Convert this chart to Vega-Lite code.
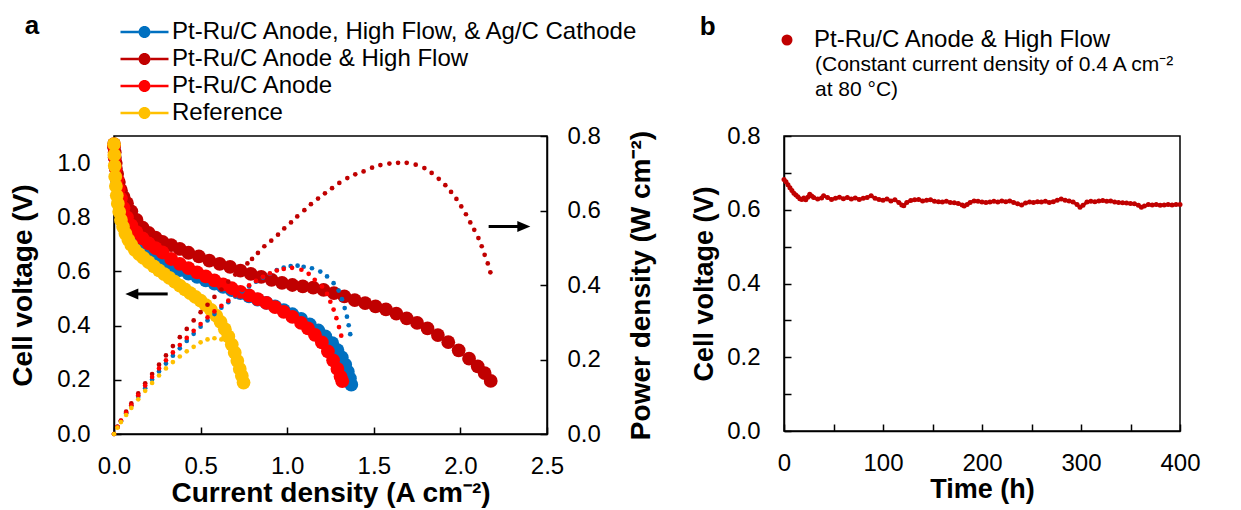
{
 "$schema": "https://vega.github.io/schema/vega-lite/v6.json",
 "background": "white",
 "padding": {"left": 8, "top": 11, "right": 0, "bottom": 0},
 "config": {
  "font": "Liberation Sans",
  "view": {"stroke": "#000000", "strokeWidth": 1.5},
  "axis": {"domain": true, "domainColor": "#000000", "domainWidth": 1.5, "domainOpacity": 1, "tickColor": "#000000", "tickWidth": 1.5, "tickSize": -7, "labelFontSize": 24, "labelColor": "black", "labelFlush": false, "labelOverlap": false, "titleFontSize": 28, "titleFontWeight": "bold", "titleColor": "black", "grid": false, "labelFont": "Liberation Sans", "titleFont": "Liberation Sans"},
  "axisX": {"labelPadding": 27, "titlePadding": 1},
  "axisY": {"labelPadding": 31, "titlePadding": 19},
  "legend": {"labelFont": "Liberation Sans", "labelColor": "black", "titleColor": "black", "titleFont": "Liberation Sans"},
  "title": {"font": "Liberation Sans", "color": "black"}
 },
 "datasets": {
  "volt": [
   {"s":"Pt-Ru/C Anode, High Flow, & Ag/C Cathode","j":0,"V":1.06},{"s":"Pt-Ru/C Anode, High Flow, & Ag/C Cathode","j":0.004,"V":1.02},{"s":"Pt-Ru/C Anode, High Flow, & Ag/C Cathode","j":0.01,"V":0.98},{"s":"Pt-Ru/C Anode, High Flow, & Ag/C Cathode","j":0.018,"V":0.935},{"s":"Pt-Ru/C Anode, High Flow, & Ag/C Cathode","j":0.028,"V":0.895},{"s":"Pt-Ru/C Anode, High Flow, & Ag/C Cathode","j":0.04,"V":0.86},{"s":"Pt-Ru/C Anode, High Flow, & Ag/C Cathode","j":0.055,"V":0.825},{"s":"Pt-Ru/C Anode, High Flow, & Ag/C Cathode","j":0.075,"V":0.79},{"s":"Pt-Ru/C Anode, High Flow, & Ag/C Cathode","j":0.1,"V":0.755},{"s":"Pt-Ru/C Anode, High Flow, & Ag/C Cathode","j":0.13,"V":0.72},{"s":"Pt-Ru/C Anode, High Flow, & Ag/C Cathode","j":0.165,"V":0.695},{"s":"Pt-Ru/C Anode, High Flow, & Ag/C Cathode","j":0.2,"V":0.672},{"s":"Pt-Ru/C Anode, High Flow, & Ag/C Cathode","j":0.24,"V":0.653},{"s":"Pt-Ru/C Anode, High Flow, & Ag/C Cathode","j":0.28,"V":0.637},{"s":"Pt-Ru/C Anode, High Flow, & Ag/C Cathode","j":0.33,"V":0.62},{"s":"Pt-Ru/C Anode, High Flow, & Ag/C Cathode","j":0.38,"V":0.605},{"s":"Pt-Ru/C Anode, High Flow, & Ag/C Cathode","j":0.43,"V":0.592},{"s":"Pt-Ru/C Anode, High Flow, & Ag/C Cathode","j":0.48,"V":0.58},{"s":"Pt-Ru/C Anode, High Flow, & Ag/C Cathode","j":0.53,"V":0.567},{"s":"Pt-Ru/C Anode, High Flow, & Ag/C Cathode","j":0.58,"V":0.555},{"s":"Pt-Ru/C Anode, High Flow, & Ag/C Cathode","j":0.63,"V":0.543},{"s":"Pt-Ru/C Anode, High Flow, & Ag/C Cathode","j":0.68,"V":0.531},{"s":"Pt-Ru/C Anode, High Flow, & Ag/C Cathode","j":0.73,"V":0.52},{"s":"Pt-Ru/C Anode, High Flow, & Ag/C Cathode","j":0.78,"V":0.508},{"s":"Pt-Ru/C Anode, High Flow, & Ag/C Cathode","j":0.83,"V":0.496},{"s":"Pt-Ru/C Anode, High Flow, & Ag/C Cathode","j":0.88,"V":0.484},{"s":"Pt-Ru/C Anode, High Flow, & Ag/C Cathode","j":0.93,"V":0.471},{"s":"Pt-Ru/C Anode, High Flow, & Ag/C Cathode","j":0.98,"V":0.457},{"s":"Pt-Ru/C Anode, High Flow, & Ag/C Cathode","j":1.03,"V":0.442},{"s":"Pt-Ru/C Anode, High Flow, & Ag/C Cathode","j":1.08,"V":0.425},{"s":"Pt-Ru/C Anode, High Flow, & Ag/C Cathode","j":1.13,"V":0.405},{"s":"Pt-Ru/C Anode, High Flow, & Ag/C Cathode","j":1.18,"V":0.382},{"s":"Pt-Ru/C Anode, High Flow, & Ag/C Cathode","j":1.22,"V":0.36},{"s":"Pt-Ru/C Anode, High Flow, & Ag/C Cathode","j":1.26,"V":0.335},{"s":"Pt-Ru/C Anode, High Flow, & Ag/C Cathode","j":1.29,"V":0.31},{"s":"Pt-Ru/C Anode, High Flow, & Ag/C Cathode","j":1.315,"V":0.283},{"s":"Pt-Ru/C Anode, High Flow, & Ag/C Cathode","j":1.335,"V":0.256},{"s":"Pt-Ru/C Anode, High Flow, & Ag/C Cathode","j":1.35,"V":0.23},{"s":"Pt-Ru/C Anode, High Flow, & Ag/C Cathode","j":1.362,"V":0.205},{"s":"Pt-Ru/C Anode, High Flow, & Ag/C Cathode","j":1.37,"V":0.182},
   {"s":"Pt-Ru/C Anode & High Flow","j":0,"V":1.07},{"s":"Pt-Ru/C Anode & High Flow","j":0.004,"V":1.04},{"s":"Pt-Ru/C Anode & High Flow","j":0.01,"V":1.0},{"s":"Pt-Ru/C Anode & High Flow","j":0.018,"V":0.96},{"s":"Pt-Ru/C Anode & High Flow","j":0.028,"V":0.93},{"s":"Pt-Ru/C Anode & High Flow","j":0.04,"V":0.9},{"s":"Pt-Ru/C Anode & High Flow","j":0.055,"V":0.875},{"s":"Pt-Ru/C Anode & High Flow","j":0.075,"V":0.852},{"s":"Pt-Ru/C Anode & High Flow","j":0.1,"V":0.822},{"s":"Pt-Ru/C Anode & High Flow","j":0.13,"V":0.79},{"s":"Pt-Ru/C Anode & High Flow","j":0.165,"V":0.762},{"s":"Pt-Ru/C Anode & High Flow","j":0.2,"V":0.742},{"s":"Pt-Ru/C Anode & High Flow","j":0.24,"V":0.725},{"s":"Pt-Ru/C Anode & High Flow","j":0.28,"V":0.709},{"s":"Pt-Ru/C Anode & High Flow","j":0.33,"V":0.697},{"s":"Pt-Ru/C Anode & High Flow","j":0.38,"V":0.683},{"s":"Pt-Ru/C Anode & High Flow","j":0.43,"V":0.669},{"s":"Pt-Ru/C Anode & High Flow","j":0.49,"V":0.656},{"s":"Pt-Ru/C Anode & High Flow","j":0.55,"V":0.64},{"s":"Pt-Ru/C Anode & High Flow","j":0.61,"V":0.628},{"s":"Pt-Ru/C Anode & High Flow","j":0.67,"V":0.617},{"s":"Pt-Ru/C Anode & High Flow","j":0.73,"V":0.603},{"s":"Pt-Ru/C Anode & High Flow","j":0.79,"V":0.591},{"s":"Pt-Ru/C Anode & High Flow","j":0.85,"V":0.58},{"s":"Pt-Ru/C Anode & High Flow","j":0.91,"V":0.569},{"s":"Pt-Ru/C Anode & High Flow","j":0.97,"V":0.558},{"s":"Pt-Ru/C Anode & High Flow","j":1.03,"V":0.55},{"s":"Pt-Ru/C Anode & High Flow","j":1.09,"V":0.545},{"s":"Pt-Ru/C Anode & High Flow","j":1.15,"V":0.54},{"s":"Pt-Ru/C Anode & High Flow","j":1.21,"V":0.532},{"s":"Pt-Ru/C Anode & High Flow","j":1.27,"V":0.52},{"s":"Pt-Ru/C Anode & High Flow","j":1.33,"V":0.508},{"s":"Pt-Ru/C Anode & High Flow","j":1.39,"V":0.494},{"s":"Pt-Ru/C Anode & High Flow","j":1.45,"V":0.483},{"s":"Pt-Ru/C Anode & High Flow","j":1.51,"V":0.471},{"s":"Pt-Ru/C Anode & High Flow","j":1.57,"V":0.46},{"s":"Pt-Ru/C Anode & High Flow","j":1.63,"V":0.444},{"s":"Pt-Ru/C Anode & High Flow","j":1.69,"V":0.427},{"s":"Pt-Ru/C Anode & High Flow","j":1.75,"V":0.41},{"s":"Pt-Ru/C Anode & High Flow","j":1.81,"V":0.39},{"s":"Pt-Ru/C Anode & High Flow","j":1.87,"V":0.365},{"s":"Pt-Ru/C Anode & High Flow","j":1.93,"V":0.339},{"s":"Pt-Ru/C Anode & High Flow","j":1.99,"V":0.309},{"s":"Pt-Ru/C Anode & High Flow","j":2.05,"V":0.278},{"s":"Pt-Ru/C Anode & High Flow","j":2.1,"V":0.25},{"s":"Pt-Ru/C Anode & High Flow","j":2.14,"V":0.225},{"s":"Pt-Ru/C Anode & High Flow","j":2.175,"V":0.196},
   {"s":"Pt-Ru/C Anode","j":0,"V":1.06},{"s":"Pt-Ru/C Anode","j":0.004,"V":1.02},{"s":"Pt-Ru/C Anode","j":0.01,"V":0.98},{"s":"Pt-Ru/C Anode","j":0.018,"V":0.94},{"s":"Pt-Ru/C Anode","j":0.028,"V":0.905},{"s":"Pt-Ru/C Anode","j":0.04,"V":0.87},{"s":"Pt-Ru/C Anode","j":0.055,"V":0.835},{"s":"Pt-Ru/C Anode","j":0.075,"V":0.8},{"s":"Pt-Ru/C Anode","j":0.1,"V":0.77},{"s":"Pt-Ru/C Anode","j":0.13,"V":0.745},{"s":"Pt-Ru/C Anode","j":0.165,"V":0.722},{"s":"Pt-Ru/C Anode","j":0.2,"V":0.704},{"s":"Pt-Ru/C Anode","j":0.24,"V":0.686},{"s":"Pt-Ru/C Anode","j":0.28,"V":0.67},{"s":"Pt-Ru/C Anode","j":0.33,"V":0.646},{"s":"Pt-Ru/C Anode","j":0.38,"V":0.628},{"s":"Pt-Ru/C Anode","j":0.43,"V":0.612},{"s":"Pt-Ru/C Anode","j":0.48,"V":0.597},{"s":"Pt-Ru/C Anode","j":0.53,"V":0.582},{"s":"Pt-Ru/C Anode","j":0.58,"V":0.567},{"s":"Pt-Ru/C Anode","j":0.63,"V":0.552},{"s":"Pt-Ru/C Anode","j":0.68,"V":0.538},{"s":"Pt-Ru/C Anode","j":0.73,"V":0.525},{"s":"Pt-Ru/C Anode","j":0.78,"V":0.512},{"s":"Pt-Ru/C Anode","j":0.83,"V":0.498},{"s":"Pt-Ru/C Anode","j":0.88,"V":0.484},{"s":"Pt-Ru/C Anode","j":0.93,"V":0.468},{"s":"Pt-Ru/C Anode","j":0.98,"V":0.451},{"s":"Pt-Ru/C Anode","j":1.03,"V":0.432},{"s":"Pt-Ru/C Anode","j":1.08,"V":0.41},{"s":"Pt-Ru/C Anode","j":1.12,"V":0.39},{"s":"Pt-Ru/C Anode","j":1.16,"V":0.366},{"s":"Pt-Ru/C Anode","j":1.2,"V":0.338},{"s":"Pt-Ru/C Anode","j":1.235,"V":0.305},{"s":"Pt-Ru/C Anode","j":1.265,"V":0.272},{"s":"Pt-Ru/C Anode","j":1.29,"V":0.24},{"s":"Pt-Ru/C Anode","j":1.308,"V":0.212},{"s":"Pt-Ru/C Anode","j":1.318,"V":0.195},
   {"s":"Reference","j":0,"V":1.07},{"s":"Reference","j":0.002,"V":1.03},{"s":"Reference","j":0.004,"V":0.99},{"s":"Reference","j":0.007,"V":0.95},{"s":"Reference","j":0.011,"V":0.915},{"s":"Reference","j":0.016,"V":0.88},{"s":"Reference","j":0.022,"V":0.85},{"s":"Reference","j":0.03,"V":0.82},{"s":"Reference","j":0.04,"V":0.79},{"s":"Reference","j":0.052,"V":0.765},{"s":"Reference","j":0.066,"V":0.74},{"s":"Reference","j":0.083,"V":0.717},{"s":"Reference","j":0.1,"V":0.698},{"s":"Reference","j":0.12,"V":0.68},{"s":"Reference","j":0.145,"V":0.664},{"s":"Reference","j":0.17,"V":0.65},{"s":"Reference","j":0.2,"V":0.634},{"s":"Reference","j":0.23,"V":0.619},{"s":"Reference","j":0.26,"V":0.604},{"s":"Reference","j":0.29,"V":0.59},{"s":"Reference","j":0.32,"V":0.576},{"s":"Reference","j":0.35,"V":0.562},{"s":"Reference","j":0.38,"V":0.548},{"s":"Reference","j":0.41,"V":0.534},{"s":"Reference","j":0.44,"V":0.52},{"s":"Reference","j":0.47,"V":0.506},{"s":"Reference","j":0.5,"V":0.492},{"s":"Reference","j":0.53,"V":0.476},{"s":"Reference","j":0.56,"V":0.458},{"s":"Reference","j":0.59,"V":0.437},{"s":"Reference","j":0.615,"V":0.414},{"s":"Reference","j":0.64,"V":0.387},{"s":"Reference","j":0.66,"V":0.36},{"s":"Reference","j":0.68,"V":0.33},{"s":"Reference","j":0.697,"V":0.3},{"s":"Reference","j":0.712,"V":0.27},{"s":"Reference","j":0.726,"V":0.24},{"s":"Reference","j":0.738,"V":0.215},{"s":"Reference","j":0.748,"V":0.19}
  ],
  "pow": [
   {"s":"Pt-Ru/C Anode, High Flow, & Ag/C Cathode","j":0,"P":0},{"s":"Pt-Ru/C Anode, High Flow, & Ag/C Cathode","j":0.02,"P":0.019},{"s":"Pt-Ru/C Anode, High Flow, & Ag/C Cathode","j":0.04,"P":0.034},{"s":"Pt-Ru/C Anode, High Flow, & Ag/C Cathode","j":0.07,"P":0.056},{"s":"Pt-Ru/C Anode, High Flow, & Ag/C Cathode","j":0.1,"P":0.076},{"s":"Pt-Ru/C Anode, High Flow, & Ag/C Cathode","j":0.14,"P":0.1},{"s":"Pt-Ru/C Anode, High Flow, & Ag/C Cathode","j":0.18,"P":0.123},{"s":"Pt-Ru/C Anode, High Flow, & Ag/C Cathode","j":0.22,"P":0.146},{"s":"Pt-Ru/C Anode, High Flow, & Ag/C Cathode","j":0.26,"P":0.168},{"s":"Pt-Ru/C Anode, High Flow, & Ag/C Cathode","j":0.3,"P":0.189},{"s":"Pt-Ru/C Anode, High Flow, & Ag/C Cathode","j":0.34,"P":0.21},{"s":"Pt-Ru/C Anode, High Flow, & Ag/C Cathode","j":0.38,"P":0.23},{"s":"Pt-Ru/C Anode, High Flow, & Ag/C Cathode","j":0.42,"P":0.25},{"s":"Pt-Ru/C Anode, High Flow, & Ag/C Cathode","j":0.46,"P":0.269},{"s":"Pt-Ru/C Anode, High Flow, & Ag/C Cathode","j":0.5,"P":0.288},{"s":"Pt-Ru/C Anode, High Flow, & Ag/C Cathode","j":0.54,"P":0.305},{"s":"Pt-Ru/C Anode, High Flow, & Ag/C Cathode","j":0.58,"P":0.322},{"s":"Pt-Ru/C Anode, High Flow, & Ag/C Cathode","j":0.62,"P":0.339},{"s":"Pt-Ru/C Anode, High Flow, & Ag/C Cathode","j":0.66,"P":0.354},{"s":"Pt-Ru/C Anode, High Flow, & Ag/C Cathode","j":0.7,"P":0.369},{"s":"Pt-Ru/C Anode, High Flow, & Ag/C Cathode","j":0.74,"P":0.383},{"s":"Pt-Ru/C Anode, High Flow, & Ag/C Cathode","j":0.78,"P":0.396},{"s":"Pt-Ru/C Anode, High Flow, & Ag/C Cathode","j":0.82,"P":0.409},{"s":"Pt-Ru/C Anode, High Flow, & Ag/C Cathode","j":0.86,"P":0.42},{"s":"Pt-Ru/C Anode, High Flow, & Ag/C Cathode","j":0.9,"P":0.43},{"s":"Pt-Ru/C Anode, High Flow, & Ag/C Cathode","j":0.94,"P":0.44},{"s":"Pt-Ru/C Anode, High Flow, & Ag/C Cathode","j":0.98,"P":0.447},{"s":"Pt-Ru/C Anode, High Flow, & Ag/C Cathode","j":1.02,"P":0.451},{"s":"Pt-Ru/C Anode, High Flow, & Ag/C Cathode","j":1.06,"P":0.452},{"s":"Pt-Ru/C Anode, High Flow, & Ag/C Cathode","j":1.095,"P":0.449},{"s":"Pt-Ru/C Anode, High Flow, & Ag/C Cathode","j":1.143,"P":0.445},{"s":"Pt-Ru/C Anode, High Flow, & Ag/C Cathode","j":1.191,"P":0.436},{"s":"Pt-Ru/C Anode, High Flow, & Ag/C Cathode","j":1.23,"P":0.423},{"s":"Pt-Ru/C Anode, High Flow, & Ag/C Cathode","j":1.268,"P":0.405},{"s":"Pt-Ru/C Anode, High Flow, & Ag/C Cathode","j":1.297,"P":0.385},{"s":"Pt-Ru/C Anode, High Flow, & Ag/C Cathode","j":1.316,"P":0.362},{"s":"Pt-Ru/C Anode, High Flow, & Ag/C Cathode","j":1.332,"P":0.338},{"s":"Pt-Ru/C Anode, High Flow, & Ag/C Cathode","j":1.345,"P":0.315},{"s":"Pt-Ru/C Anode, High Flow, & Ag/C Cathode","j":1.355,"P":0.292},{"s":"Pt-Ru/C Anode, High Flow, & Ag/C Cathode","j":1.364,"P":0.268},
   {"s":"Pt-Ru/C Anode & High Flow","j":0,"P":0},{"s":"Pt-Ru/C Anode & High Flow","j":0.02,"P":0.019},{"s":"Pt-Ru/C Anode & High Flow","j":0.04,"P":0.036},{"s":"Pt-Ru/C Anode & High Flow","j":0.07,"P":0.06},{"s":"Pt-Ru/C Anode & High Flow","j":0.1,"P":0.082},{"s":"Pt-Ru/C Anode & High Flow","j":0.14,"P":0.109},{"s":"Pt-Ru/C Anode & High Flow","j":0.18,"P":0.136},{"s":"Pt-Ru/C Anode & High Flow","j":0.22,"P":0.161},{"s":"Pt-Ru/C Anode & High Flow","j":0.26,"P":0.186},{"s":"Pt-Ru/C Anode & High Flow","j":0.3,"P":0.211},{"s":"Pt-Ru/C Anode & High Flow","j":0.34,"P":0.236},{"s":"Pt-Ru/C Anode & High Flow","j":0.38,"P":0.26},{"s":"Pt-Ru/C Anode & High Flow","j":0.42,"P":0.282},{"s":"Pt-Ru/C Anode & High Flow","j":0.46,"P":0.305},{"s":"Pt-Ru/C Anode & High Flow","j":0.5,"P":0.327},{"s":"Pt-Ru/C Anode & High Flow","j":0.54,"P":0.347},{"s":"Pt-Ru/C Anode & High Flow","j":0.58,"P":0.368},{"s":"Pt-Ru/C Anode & High Flow","j":0.62,"P":0.388},{"s":"Pt-Ru/C Anode & High Flow","j":0.66,"P":0.409},{"s":"Pt-Ru/C Anode & High Flow","j":0.7,"P":0.428},{"s":"Pt-Ru/C Anode & High Flow","j":0.74,"P":0.445},{"s":"Pt-Ru/C Anode & High Flow","j":0.77,"P":0.458},{"s":"Pt-Ru/C Anode & High Flow","j":0.797,"P":0.47},{"s":"Pt-Ru/C Anode & High Flow","j":0.831,"P":0.486},{"s":"Pt-Ru/C Anode & High Flow","j":0.868,"P":0.504},{"s":"Pt-Ru/C Anode & High Flow","j":0.908,"P":0.519},{"s":"Pt-Ru/C Anode & High Flow","j":0.947,"P":0.535},{"s":"Pt-Ru/C Anode & High Flow","j":0.983,"P":0.552},{"s":"Pt-Ru/C Anode & High Flow","j":1.022,"P":0.568},{"s":"Pt-Ru/C Anode & High Flow","j":1.058,"P":0.584},{"s":"Pt-Ru/C Anode & High Flow","j":1.099,"P":0.601},{"s":"Pt-Ru/C Anode & High Flow","j":1.137,"P":0.617},{"s":"Pt-Ru/C Anode & High Flow","j":1.178,"P":0.632},{"s":"Pt-Ru/C Anode & High Flow","j":1.218,"P":0.646},{"s":"Pt-Ru/C Anode & High Flow","j":1.259,"P":0.66},{"s":"Pt-Ru/C Anode & High Flow","j":1.301,"P":0.674},{"s":"Pt-Ru/C Anode & High Flow","j":1.347,"P":0.687},{"s":"Pt-Ru/C Anode & High Flow","j":1.393,"P":0.697},{"s":"Pt-Ru/C Anode & High Flow","j":1.441,"P":0.705},{"s":"Pt-Ru/C Anode & High Flow","j":1.49,"P":0.715},{"s":"Pt-Ru/C Anode & High Flow","j":1.538,"P":0.722},{"s":"Pt-Ru/C Anode & High Flow","j":1.59,"P":0.726},{"s":"Pt-Ru/C Anode & High Flow","j":1.64,"P":0.728},{"s":"Pt-Ru/C Anode & High Flow","j":1.69,"P":0.728},{"s":"Pt-Ru/C Anode & High Flow","j":1.742,"P":0.723},{"s":"Pt-Ru/C Anode & High Flow","j":1.792,"P":0.714},{"s":"Pt-Ru/C Anode & High Flow","j":1.834,"P":0.701},{"s":"Pt-Ru/C Anode & High Flow","j":1.875,"P":0.685},{"s":"Pt-Ru/C Anode & High Flow","j":1.913,"P":0.668},{"s":"Pt-Ru/C Anode & High Flow","j":1.946,"P":0.65},{"s":"Pt-Ru/C Anode & High Flow","j":1.977,"P":0.631},{"s":"Pt-Ru/C Anode & High Flow","j":2.005,"P":0.611},{"s":"Pt-Ru/C Anode & High Flow","j":2.032,"P":0.59},{"s":"Pt-Ru/C Anode & High Flow","j":2.057,"P":0.568},{"s":"Pt-Ru/C Anode & High Flow","j":2.08,"P":0.548},{"s":"Pt-Ru/C Anode & High Flow","j":2.104,"P":0.526},{"s":"Pt-Ru/C Anode & High Flow","j":2.123,"P":0.504},{"s":"Pt-Ru/C Anode & High Flow","j":2.14,"P":0.481},{"s":"Pt-Ru/C Anode & High Flow","j":2.158,"P":0.458},{"s":"Pt-Ru/C Anode & High Flow","j":2.173,"P":0.434},
   {"s":"Pt-Ru/C Anode","j":0,"P":0},{"s":"Pt-Ru/C Anode","j":0.02,"P":0.019},{"s":"Pt-Ru/C Anode","j":0.04,"P":0.035},{"s":"Pt-Ru/C Anode","j":0.07,"P":0.057},{"s":"Pt-Ru/C Anode","j":0.1,"P":0.077},{"s":"Pt-Ru/C Anode","j":0.14,"P":0.104},{"s":"Pt-Ru/C Anode","j":0.18,"P":0.13},{"s":"Pt-Ru/C Anode","j":0.22,"P":0.153},{"s":"Pt-Ru/C Anode","j":0.26,"P":0.176},{"s":"Pt-Ru/C Anode","j":0.3,"P":0.198},{"s":"Pt-Ru/C Anode","j":0.34,"P":0.219},{"s":"Pt-Ru/C Anode","j":0.38,"P":0.239},{"s":"Pt-Ru/C Anode","j":0.42,"P":0.258},{"s":"Pt-Ru/C Anode","j":0.46,"P":0.277},{"s":"Pt-Ru/C Anode","j":0.5,"P":0.295},{"s":"Pt-Ru/C Anode","j":0.54,"P":0.313},{"s":"Pt-Ru/C Anode","j":0.58,"P":0.329},{"s":"Pt-Ru/C Anode","j":0.62,"P":0.344},{"s":"Pt-Ru/C Anode","j":0.66,"P":0.358},{"s":"Pt-Ru/C Anode","j":0.7,"P":0.372},{"s":"Pt-Ru/C Anode","j":0.74,"P":0.386},{"s":"Pt-Ru/C Anode","j":0.78,"P":0.399},{"s":"Pt-Ru/C Anode","j":0.82,"P":0.411},{"s":"Pt-Ru/C Anode","j":0.86,"P":0.422},{"s":"Pt-Ru/C Anode","j":0.9,"P":0.431},{"s":"Pt-Ru/C Anode","j":0.94,"P":0.439},{"s":"Pt-Ru/C Anode","j":0.98,"P":0.443},{"s":"Pt-Ru/C Anode","j":1.028,"P":0.446},{"s":"Pt-Ru/C Anode","j":1.082,"P":0.441},{"s":"Pt-Ru/C Anode","j":1.124,"P":0.43},{"s":"Pt-Ru/C Anode","j":1.159,"P":0.414},{"s":"Pt-Ru/C Anode","j":1.201,"P":0.396},{"s":"Pt-Ru/C Anode","j":1.23,"P":0.376},{"s":"Pt-Ru/C Anode","j":1.249,"P":0.355},{"s":"Pt-Ru/C Anode","j":1.268,"P":0.334},{"s":"Pt-Ru/C Anode","j":1.284,"P":0.311},{"s":"Pt-Ru/C Anode","j":1.299,"P":0.287},{"s":"Pt-Ru/C Anode","j":1.312,"P":0.264},
   {"s":"Reference","j":0,"P":0},{"s":"Reference","j":0.02,"P":0.017},{"s":"Reference","j":0.04,"P":0.032},{"s":"Reference","j":0.07,"P":0.051},{"s":"Reference","j":0.1,"P":0.07},{"s":"Reference","j":0.14,"P":0.093},{"s":"Reference","j":0.18,"P":0.116},{"s":"Reference","j":0.22,"P":0.137},{"s":"Reference","j":0.26,"P":0.157},{"s":"Reference","j":0.3,"P":0.176},{"s":"Reference","j":0.34,"P":0.193},{"s":"Reference","j":0.38,"P":0.208},{"s":"Reference","j":0.42,"P":0.222},{"s":"Reference","j":0.46,"P":0.234},{"s":"Reference","j":0.5,"P":0.246},{"s":"Reference","j":0.54,"P":0.254},{"s":"Reference","j":0.58,"P":0.257},{"s":"Reference","j":0.62,"P":0.254},{"s":"Reference","j":0.66,"P":0.238},{"s":"Reference","j":0.7,"P":0.21},{"s":"Reference","j":0.73,"P":0.17},{"s":"Reference","j":0.748,"P":0.142}
  ],
  "stab": [
   {"t":0,"V":0.682},{"t":2,"V":0.676},{"t":4,"V":0.668},{"t":6,"V":0.66},{"t":8,"V":0.652},{"t":10,"V":0.645},{"t":12,"V":0.64},{"t":14,"V":0.635},{"t":16,"V":0.63},{"t":18,"V":0.628},{"t":20,"V":0.632},{"t":22,"V":0.627},{"t":24,"V":0.634},{"t":26,"V":0.642},{"t":28,"V":0.637},{"t":30,"V":0.633},{"t":34,"V":0.629},{"t":38,"V":0.632},{"t":40,"V":0.638},{"t":44,"V":0.633},{"t":48,"V":0.628},{"t":52,"V":0.631},{"t":56,"V":0.634},{"t":60,"V":0.63},{"t":64,"V":0.633},{"t":68,"V":0.629},{"t":72,"V":0.632},{"t":76,"V":0.628},{"t":80,"V":0.631},{"t":84,"V":0.633},{"t":88,"V":0.638},{"t":92,"V":0.631},{"t":96,"V":0.628},{"t":100,"V":0.626},{"t":104,"V":0.629},{"t":108,"V":0.624},{"t":112,"V":0.627},{"t":116,"V":0.62},{"t":119,"V":0.613},{"t":121,"V":0.611},{"t":124,"V":0.62},{"t":128,"V":0.625},{"t":132,"V":0.627},{"t":136,"V":0.628},{"t":140,"V":0.624},{"t":144,"V":0.626},{"t":148,"V":0.627},{"t":152,"V":0.623},{"t":156,"V":0.622},{"t":160,"V":0.621},{"t":164,"V":0.623},{"t":168,"V":0.62},{"t":172,"V":0.619},{"t":176,"V":0.617},{"t":180,"V":0.613},{"t":182,"V":0.61},{"t":185,"V":0.614},{"t":188,"V":0.62},{"t":192,"V":0.624},{"t":196,"V":0.623},{"t":200,"V":0.621},{"t":204,"V":0.62},{"t":208,"V":0.621},{"t":212,"V":0.623},{"t":216,"V":0.621},{"t":220,"V":0.624},{"t":224,"V":0.622},{"t":228,"V":0.624},{"t":232,"V":0.62},{"t":236,"V":0.616},{"t":240,"V":0.613},{"t":244,"V":0.618},{"t":248,"V":0.621},{"t":252,"V":0.62},{"t":256,"V":0.622},{"t":260,"V":0.621},{"t":264,"V":0.623},{"t":268,"V":0.62},{"t":272,"V":0.622},{"t":276,"V":0.626},{"t":280,"V":0.629},{"t":284,"V":0.626},{"t":288,"V":0.624},{"t":292,"V":0.621},{"t":296,"V":0.614},{"t":299,"V":0.607},{"t":302,"V":0.612},{"t":306,"V":0.621},{"t":310,"V":0.623},{"t":314,"V":0.622},{"t":318,"V":0.624},{"t":322,"V":0.625},{"t":326,"V":0.623},{"t":330,"V":0.624},{"t":334,"V":0.621},{"t":338,"V":0.62},{"t":342,"V":0.619},{"t":346,"V":0.618},{"t":350,"V":0.617},{"t":354,"V":0.616},{"t":358,"V":0.612},{"t":361,"V":0.607},{"t":364,"V":0.61},{"t":368,"V":0.614},{"t":372,"V":0.613},{"t":376,"V":0.614},{"t":380,"V":0.612},{"t":384,"V":0.613},{"t":388,"V":0.614},{"t":392,"V":0.613},{"t":396,"V":0.614},{"t":400,"V":0.614}
  ]
 },
 "hconcat": [
  {
   "width": 433,
   "height": 298,
   "view": {"stroke": "#000000", "strokeWidth": 1.5},
   "title": {"text": "a", "anchor": "start", "frame": "bounds", "fontSize": 26, "fontWeight": "bold", "dx": 15, "offset": 0, "dy": 18.5},
   "encoding": {
    "x": {"field": "j", "type": "quantitative", "scale": {"domain": [0, 2.5], "nice": false}, "axis": {"values": [0, 0.5, 1, 1.5, 2, 2.5], "format": ".1f", "title": "Current density (A cm⁻²)"}}
   },
   "layer": [
    {
     "encoding": {
      "y": {"field": "V", "type": "quantitative", "scale": {"domain": [0, 1.1], "nice": false}, "axis": {"values": [0, 0.2, 0.4, 0.6, 0.8, 1.0], "format": ".1f", "title": "Cell voltage (V)"}}
     },
     "layer": [
      {
       "data": {"name": "volt"},
       "mark": {"type": "point", "filled": true, "opacity": 1, "size": 190},
       "encoding": {
        "color": {"field": "s", "type": "nominal", "scale": {"domain": ["Pt-Ru/C Anode, High Flow, & Ag/C Cathode", "Pt-Ru/C Anode & High Flow", "Pt-Ru/C Anode", "Reference"], "range": ["#0070C0", "#C00000", "#FF0000", "#FFC000"]},
         "legend": {"title": null, "orient": "none", "legendX": 18.5, "legendY": -116, "symbolType": "M-4,-0.22H-1V0.22H-4Z M1,-0.22H4V0.22H1Z M1,0A1,1,0,1,1,-1,0A1,1,0,1,1,1,0Z", "symbolSize": 144, "symbolStrokeWidth": 0, "symbolOpacity": 1, "labelFontSize": 24, "labelOffset": 15.5, "labelLimit": 700, "rowPadding": 3}}
       }
      },
      {
       "data": {"values": [{"j": 0.13, "j2": 0.31, "V": 0.517}]},
       "mark": {"type": "rule", "color": "black", "strokeWidth": 3},
       "encoding": {"x2": {"field": "j2"}}
      },
      {
       "data": {"values": [{"j": 0.103, "V": 0.517}]},
       "mark": {"type": "point", "shape": "M-1,0L1,-0.85L1,0.85Z", "filled": true, "opacity": 1, "color": "black", "size": 169}
      }
     ]
    },
    {
     "encoding": {
      "y": {"field": "P", "type": "quantitative", "scale": {"domain": [0, 0.8], "nice": false}, "axis": {"values": [0, 0.2, 0.4, 0.6, 0.8], "format": ".1f", "title": "Power density (W cm⁻²)", "labelPadding": 27, "titlePadding": 27, "titleAngle": 270, "titleBaseline": "top"}}
     },
     "layer": [
      {
       "data": {"name": "pow"},
       "mark": {"type": "point", "filled": true, "opacity": 1, "size": 22},
       "encoding": {
        "color": {"field": "s", "type": "nominal", "scale": {"domain": ["Pt-Ru/C Anode, High Flow, & Ag/C Cathode", "Pt-Ru/C Anode & High Flow", "Pt-Ru/C Anode", "Reference"], "range": ["#0070C0", "#C00000", "#FF0000", "#FFC000"]},
         "legend": {"title": null, "orient": "none", "legendX": 18.5, "legendY": -116, "symbolType": "M-4,-0.22H-1V0.22H-4Z M1,-0.22H4V0.22H1Z M1,0A1,1,0,1,1,-1,0A1,1,0,1,1,1,0Z", "symbolSize": 144, "symbolStrokeWidth": 0, "symbolOpacity": 1, "labelFontSize": 24, "labelOffset": 15.5, "labelLimit": 700, "rowPadding": 3}}
       }
      },
      {
       "data": {"values": [{"j": 2.163, "j2": 2.34, "P": 0.557}]},
       "mark": {"type": "rule", "color": "black", "strokeWidth": 3},
       "encoding": {"x2": {"field": "j2"}}
      },
      {
       "data": {"values": [{"j": 2.366, "P": 0.557}]},
       "mark": {"type": "point", "shape": "M1,0L-1,-0.85L-1,0.85Z", "filled": true, "opacity": 1, "color": "black", "size": 169}
      }
     ]
    }
   ],
   "resolve": {"scale": {"y": "independent"}}
  },
  {
   "width": 396,
   "height": 295,
   "view": {"stroke": "#000000", "strokeWidth": 1.5},
   "title": {"text": "b", "anchor": "start", "frame": "bounds", "fontSize": 26, "fontWeight": "bold", "dx": 9, "offset": 0, "dy": 11.5},
   "data": {"name": "stab"},
   "encoding": {
    "x": {"field": "t", "type": "quantitative", "scale": {"domain": [0, 400], "nice": false}, "axis": {"values": [0, 50, 100, 150, 200, 250, 300, 350, 400], "labelExpr": "datum.value % 100 == 0 ? datum.label : ''", "title": "Time (h)", "titleFontSize": 27}},
    "y": {"field": "V", "type": "quantitative", "scale": {"domain": [0, 0.8], "nice": false}, "axis": {"values": [0, 0.1, 0.2, 0.3, 0.4, 0.5, 0.6, 0.7, 0.8], "format": ".1f", "labelExpr": "round(datum.value * 10) % 2 == 0 ? datum.label : ''", "title": "Cell voltage (V)", "titleFontSize": 27, "titlePadding": 8}}
   },
   "layer": [
    {"mark": {"type": "line", "color": "#C00000", "strokeWidth": 3}},
    {
     "mark": {"type": "point", "filled": true, "opacity": 1, "size": 25},
     "encoding": {
      "color": {"datum": "Pt-Ru/C Anode & High Flow", "type": "nominal", "scale": {"domain": ["Pt-Ru/C Anode & High Flow"], "range": ["#C00000"]},
       "legend": {"title": ["(Constant current density of 0.4 A cm⁻²", "at 80 °C)"], "titleOrient": "bottom", "titleFontSize": 21, "titleFontWeight": "normal", "titleLineHeight": 25, "titleLimit": 600, "titleAnchor": "start", "titleAlign": "left", "titlePadding": 2, "orient": "none", "legendX": -9, "legendY": -108, "symbolType": "circle", "symbolSize": 121, "symbolStrokeWidth": 0, "symbolOpacity": 1, "labelFontSize": 24, "labelOffset": 15, "labelLimit": 600, "encode": {"title": {"update": {"dx": {"value": 40}}}}}}
     }
    }
   ]
  }
 ],
 "spacing": 237,
 "bounds": "flush",
 "resolve": {"scale": {"color": "independent"}}
}
